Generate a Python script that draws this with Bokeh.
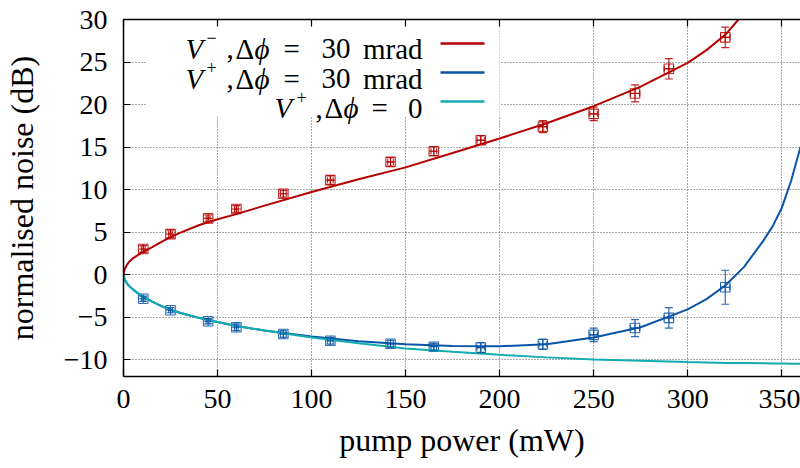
from bokeh.plotting import figure
from bokeh.models import (Range1d, LinearAxis, FixedTicker, Whisker, TeeHead,
                          ColumnDataSource, Label, BoxAnnotation)
from bokeh.embed import file_html
from bokeh.resources import INLINE

# ---------------- data ----------------
power = [10.5, 25, 45, 60, 85, 110, 142, 165, 190, 223, 250, 272, 290, 320]
power_err = [1, 1, 1, 1, 1.5, 1.5, 1.5, 1.5, 2, 2, 2, 2.5, 2.5, 2.5]
vminus = [3.0, 4.75, 6.6, 7.7, 9.5, 11.1, 13.25, 14.5, 15.8, 17.4, 18.9, 21.3, 24.2, 27.9]
vminus_err = [0.4, 0.4, 0.4, 0.4, 0.4, 0.5, 0.5, 0.5, 0.5, 0.7, 0.8, 1.0, 1.2, 1.2]
vplus = [-2.85, -4.2, -5.5, -6.2, -7.0, -7.8, -8.15, -8.5, -8.6, -8.2, -7.1, -6.3, -5.1, -1.5]
vplus_err = [0.3, 0.3, 0.3, 0.4, 0.4, 0.4, 0.4, 0.4, 0.6, 0.6, 0.8, 1.0, 1.2, 2.0]

# theory curves
curve_x_minus = [0, 0.5, 1, 2, 3, 5, 7, 10, 15, 20, 25, 30, 40, 50, 60, 75, 100,
                 125, 150, 175, 200, 225, 250, 275, 300, 310, 320, 327]
curve_vminus = [0, 0.5, 0.8, 1.2, 1.5, 1.9, 2.2, 2.6, 3.2, 3.8, 4.4, 4.9, 5.8, 6.5,
                7.1, 8.1, 9.7, 11.2, 12.6, 14.3, 16.0, 17.8, 19.8, 22.1, 24.9, 26.4,
                28.2, 30.0]
curve_x_plus = [0, 0.5, 1, 2, 3, 5, 7, 10, 15, 20, 25, 30, 40, 50, 60, 75, 100,
                125, 150, 175, 200, 225, 250, 275, 300, 310, 320, 330, 340, 345,
                350, 355, 360]
curve_vplus = [0, -0.5, -0.75, -1.1, -1.35, -1.75, -2.1, -2.55, -3.15, -3.7, -4.15,
               -4.5, -5.1, -5.6, -6.05, -6.6, -7.3, -7.85, -8.2, -8.4, -8.45, -8.2,
               -7.4, -6.2, -4.1, -2.9, -1.3, 0.9, 3.9, 5.6, 7.8, 11.0, 15.0]
curve_vplus0 = [0, -0.5, -0.75, -1.1, -1.35, -1.75, -2.1, -2.55, -3.15, -3.7, -4.15,
                -4.5, -5.1, -5.6, -6.05, -6.6, -7.4, -8.1, -8.7, -9.1, -9.45, -9.75,
                -10.0, -10.15, -10.3, -10.35, -10.4, -10.42, -10.45, -10.47, -10.48,
                -10.49, -10.5]

x_ticks = [0, 50, 100, 150, 200, 250, 300, 350]
y_ticks = [-10, -5, 0, 5, 10, 15, 20, 25, 30]
y_tick_labels = {-10: "\u221210", -5: "\u22125"}

RED = "#b40000"
BLUE = "#0a55a5"
CYAN = "#12adb0"
FONT = "Liberation Serif"

# ---------------- figure ----------------
FL, FT, FB = 123, 19, 376  # frame left/top/bottom on the page
p = figure(width=800, height=468, x_range=Range1d(0, 360), y_range=Range1d(-12, 30),
           output_backend="svg", toolbar_location=None,
           min_border_left=FL, min_border_right=0, min_border_top=FT,
           min_border_bottom=468 - FB)
p.outline_line_color = None
p.background_fill_color = "white"
p.border_fill_color = "white"

for ax in (p.xaxis[0], p.yaxis[0]):
    ax.axis_line_color = "black"
    ax.axis_line_width = 1.5
    ax.major_tick_in = 7
    ax.major_tick_out = 0
    ax.major_tick_line_width = 1.2
    ax.minor_tick_line_color = None
    ax.major_label_text_font = FONT
    ax.major_label_text_font_size = "28px"
    ax.major_label_text_color = "black"
    ax.axis_label_text_font = FONT
    ax.axis_label_text_font_size = "32px"
    ax.axis_label_text_font_style = "normal"
    ax.axis_label_text_color = "black"

p.xaxis.ticker = FixedTicker(ticks=x_ticks)
p.yaxis.ticker = FixedTicker(ticks=y_ticks)
p.yaxis.major_label_overrides = y_tick_labels
p.xaxis.axis_label = "pump power (mW)"
p.yaxis.axis_label = "normalised noise (dB)"
p.xaxis.major_label_standoff = 13
p.yaxis.major_label_standoff = 16
p.xaxis.axis_label_standoff = 11
p.yaxis.axis_label_standoff = 21

top = LinearAxis(ticker=FixedTicker(ticks=x_ticks), axis_line_color="black",
                 axis_line_width=1.5, major_tick_in=7, major_tick_out=0,
                 major_tick_line_width=1.2, minor_tick_line_color=None,
                 major_label_text_font_size="8px", major_label_text_color=None,
                 major_label_standoff=0)
p.add_layout(top, "above")

for g in (p.xgrid[0], p.ygrid[0]):
    g.grid_line_color = "#555555"
    g.grid_line_dash = "1 2"
    g.grid_line_width = 1
p.xgrid.ticker = FixedTicker(ticks=x_ticks)
p.ygrid.ticker = FixedTicker(ticks=y_ticks)

# white legend box covering the grid
p.add_layout(BoxAnnotation(left=146 - FL, right=499 - FL, top=FB - FT, bottom=FB - 116,
                           left_units="screen", right_units="screen",
                           top_units="screen", bottom_units="screen",
                           fill_color="white", fill_alpha=1, line_color=None,
                           level="underlay"))

# ---------------- data points with error bars ----------------
src_m = ColumnDataSource(dict(x=power, y=vminus,
                              xl=[a - b for a, b in zip(power, power_err)],
                              xu=[a + b for a, b in zip(power, power_err)],
                              yl=[a - b for a, b in zip(vminus, vminus_err)],
                              yu=[a + b for a, b in zip(vminus, vminus_err)]))
src_p = ColumnDataSource(dict(x=power, y=vplus,
                              xl=[a - b for a, b in zip(power, power_err)],
                              xu=[a + b for a, b in zip(power, power_err)],
                              yl=[a - b for a, b in zip(vplus, vplus_err)],
                              yu=[a + b for a, b in zip(vplus, vplus_err)]))

for src, col in ((src_m, RED), (src_p, BLUE)):
    p.add_layout(Whisker(source=src, base="x", lower="yl", upper="yu", dimension="height",
                         line_color=col, line_width=1.2, line_alpha=0.85,
                         upper_head=TeeHead(size=8, line_color=col, line_width=1.2, line_alpha=0.85),
                         lower_head=TeeHead(size=8, line_color=col, line_width=1.2, line_alpha=0.85),
                         level="glyph"))
    p.add_layout(Whisker(source=src, base="y", lower="xl", upper="xu", dimension="width",
                         line_color=col, line_width=1.2, line_alpha=0.85,
                         upper_head=TeeHead(size=6, line_color=col, line_width=1.2, line_alpha=0.85),
                         lower_head=TeeHead(size=6, line_color=col, line_width=1.2, line_alpha=0.85),
                         level="glyph"))
    p.scatter("x", "y", source=src, marker="square_cross", size=9.5, fill_color=None,
              line_color=col, line_width=1.1, line_alpha=0.85)

# ---------------- theory curves ----------------
p.line(curve_x_minus, curve_vminus, line_color=RED, line_width=2)
p.line(curve_x_plus, curve_vplus, line_color=BLUE, line_width=2)
p.line(curve_x_plus, curve_vplus0, line_color=CYAN, line_width=2)

# ---------------- legend (built from pieces, page coordinates) ----------------
def lab(text, X, Y, size=29, italic=False, align="left", baseline="alphabetic"):
    p.add_layout(Label(x=X - FL, y=FB - Y, x_units="screen", y_units="screen",
                       text=text, text_font=FONT, text_font_size=f"{size}px",
                       text_font_style="italic" if italic else "normal",
                       text_align=align, text_baseline=baseline, text_color="black"))

rows = [(48, "\u2212"), (78, "+")]
for base, sup in rows:
    lab("V", 185, base, italic=True)
    lab(sup, 206, base - 11, size=18)
    lab(",", 226, base)
    lab("\u0394", 235, base)
    lab("\u03d5", 254, base, italic=True)
    lab("=", 283, base)
    lab("30", 350, base, align="right")
    lab("mrad", 422, base, align="right")
base3 = 107.5
lab("V", 274, base3, italic=True)
lab("+", 296, base3 - 11, size=18)
lab(",", 315, base3)
lab("\u0394", 324, base3)
lab("\u03d5", 343, base3, italic=True)
lab("=", 371, base3)
lab("0", 422, base3, align="right")

for yc, col in ((43, RED), (72, BLUE), (101, CYAN)):
    p.add_layout(BoxAnnotation(left=440 - FL, right=484 - FL, top=FB - yc + 1.2,
                               bottom=FB - yc - 1.2,
                               left_units="screen", right_units="screen",
                               top_units="screen", bottom_units="screen",
                               fill_color=col, fill_alpha=1, line_color=None))

open("out.html", "w").write(file_html(p, INLINE))
